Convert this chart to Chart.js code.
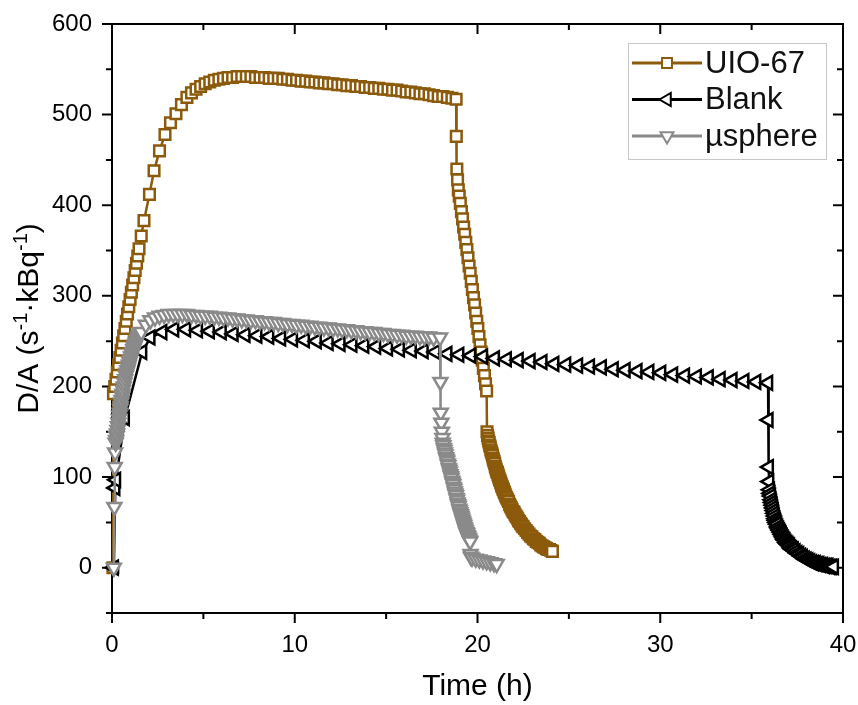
<!DOCTYPE html>
<html>
<head>
<meta charset="utf-8">
<script src="https://cdn.jsdelivr.net/npm/chart.js@4.4.1/dist/chart.umd.min.js"></script>
<style>
  html, body { margin: 0; padding: 0; background: #fff; }
</style>
</head>
<body>
<canvas id="chart" width="858" height="705"></canvas>
<script>
// [time (h), D/A]
const uio67 = [
  [0.05,0],[0.08,192],[0.15,200],[0.22,208],[0.29,216],[0.36,224],[0.43,232],[0.5,240],[0.57,248],[0.64,256],
  [0.71,264],[0.78,272],[0.85,280],[0.92,288],[0.99,296],[1.06,304],[1.13,312],[1.2,320],[1.27,328],[1.34,336],
  [1.41,344],[1.48,352],[1.6,366],[1.75,383],[2.05,412],[2.3,438],[2.6,460],[2.9,478],[3.2,491],[3.5,501],
  [3.8,511],[4.1,519],[4.35,524],[4.6,528],[4.85,531],[5.1,534],[5.35,536],[5.6,538],[5.85,539],[6.1,540],
  [6.35,541],[6.6,541],[6.85,542],[7.1,542],[7.35,542],[7.6,542],[7.85,541],[8.1,541],[8.35,541],[8.6,540],
  [8.85,540],[9.1,540],[9.35,539],[9.6,539],[9.85,538],[10.1,538],[10.35,537],[10.6,537],[10.85,536],[11.1,536],
  [11.35,535],[11.6,535],[11.85,534],[12.1,534],[12.35,533],[12.6,533],[12.85,532],[13.1,532],[13.35,531],[13.6,531],
  [13.85,530],[14.1,530],[14.35,529],[14.6,529],[14.85,528],[15.1,528],[15.35,527],[15.6,527],[15.85,526],[16.1,525],
  [16.35,525],[16.6,524],[16.85,523],[17.1,523],[17.35,522],[17.6,521],[17.85,520],[18.1,520],[18.35,519],[18.6,518],
  [18.83,517],[18.84,476],[18.87,440],[18.91,428],[18.95,417],[19.0,410],[19.06,402],[19.12,393],[19.18,385],[19.24,376],
  [19.3,368],[19.36,359],[19.42,351],[19.48,342],[19.54,333],[19.6,325],[19.66,316],[19.72,307],[19.78,298],[19.84,290],
  [19.9,281],[19.96,272],[20.02,264],[20.08,255],[20.14,246],[20.2,238],[20.26,229],[20.32,220],[20.38,212],[20.44,203],
  [20.5,195],[20.52,150],[20.55,146],[20.58,143],[20.61,140],[20.64,138],[20.67,135],[20.7,133],[20.73,130],[20.76,128],
  [20.79,126],[20.82,124],[20.85,121],[20.88,119],[20.91,117],[20.94,115],[20.97,112],[21.0,110],[21.03,108],[21.06,106],
  [21.09,105],[21.12,103],[21.15,101],[21.18,99],[21.21,97],[21.24,96],[21.27,94],[21.3,92],[21.33,90],[21.36,89],
  [21.39,87],[21.42,86],[21.45,84],[21.48,83],[21.51,81],[21.55,79],[21.6,77],[21.65,75],[21.7,73],[21.75,70],
  [21.8,68],[21.85,66],[21.9,64],[21.95,62],[22.0,61],[22.05,59],[22.1,57],[22.15,56],[22.2,54],[22.25,52],
  [22.3,51],[22.35,49],[22.4,48],[22.45,46],[22.5,45],[22.58,43],[22.66,41],[22.74,39],[22.82,37],[22.9,35],
  [22.98,34],[23.06,32],[23.14,31],[23.22,29],[23.3,28],[23.38,27],[23.46,25],[23.54,24],[23.62,23],[23.7,22],
  [23.78,21],[23.86,20],[23.94,20],[24.02,19],[24.1,18]
];

const blank = [
  [0.1,0],[0.18,88],[0.22,97],[0.7,165],[1.65,238],[2.1,254],[2.75,260],[3.4,263],[4.05,263],[4.7,262],
  [5.35,261],[6.0,260],[6.65,258],[7.3,257],[7.95,256],[8.6,255],[9.25,253],[9.9,252],[10.55,251],[11.2,250],
  [11.85,248],[12.5,247],[13.15,246],[13.8,245],[14.45,244],[15.1,242],[15.75,241],[16.4,240],[17.05,239],[17.7,238],
  [18.35,236],[19.0,235],[19.65,234],[20.3,233],[20.95,231],[21.6,230],[22.25,229],[22.9,228],[23.55,227],[24.2,225],
  [24.85,224],[25.5,223],[26.15,222],[26.8,221],[27.45,219],[28.1,218],[28.75,217],[29.4,216],[30.05,215],[30.7,213],
  [31.35,212],[32.0,211],[32.65,210],[33.3,208],[33.95,207],[34.6,206],[35.25,205],[35.9,204],
  [35.92,163],[35.94,111],[35.96,95],[36.0,86],[36.03,82],[36.06,79],[36.09,75],[36.12,72],[36.15,69],[36.18,66],
  [36.21,63],[36.24,60],[36.27,57],[36.3,54],[36.33,52],[36.36,50],[36.4,48],[36.45,45],[36.5,43],[36.55,41],
  [36.6,39],[36.65,37],[36.7,35],[36.75,33],[36.8,31],[36.85,30],[36.9,28],[36.95,27],[37.0,26],[37.05,25],
  [37.1,24],[37.15,22],[37.2,21],[37.25,20],[37.3,20],[37.4,18],[37.5,16],[37.6,15],[37.7,13],[37.8,12],
  [37.9,10],[38.0,9],[38.1,8],[38.2,7],[38.3,6],[38.4,5],[38.5,5],[38.6,4],[38.7,4],[38.8,3],
  [38.9,3],[39.0,2],[39.1,2],[39.2,2],[39.3,1],[39.4,1],[39.5,1]
];

const usphere = [
  [0.1,0],[0.13,67],[0.15,111],[0.17,127],[0.2,138],[0.225,141],[0.25,145],[0.275,148],[0.3,152],[0.325,156],
  [0.35,160],[0.375,164],[0.4,168],[0.425,171],[0.45,175],[0.475,178],[0.5,182],[0.525,185],[0.55,189],[0.575,192],
  [0.6,196],[0.64,200],[0.68,204],[0.72,208],[0.76,212],[0.8,215],[0.84,218],[0.88,221],[0.92,224],[0.96,227],
  [1.0,230],[1.04,233],[1.08,236],[1.12,238],[1.16,241],[1.2,243],[1.24,245],[1.28,247],[1.32,249],[1.36,251],
  [1.4,253],[1.45,255],[1.5,257],[1.55,259],[1.6,260],[1.85,268],[2.1,273],[2.35,276],[2.6,278],[2.85,279],
  [3.1,280],[3.35,280],[3.6,280],[3.85,280],[4.1,280],[4.35,279],[4.6,279],[4.85,278],[5.1,278],[5.35,278],
  [5.6,277],[5.85,277],[6.1,276],[6.35,276],[6.6,275],[6.85,275],[7.1,274],[7.35,274],[7.6,273],[7.85,273],
  [8.1,272],[8.35,272],[8.6,271],[8.85,271],[9.1,270],[9.35,270],[9.6,269],[9.85,269],[10.1,268],[10.35,268],
  [10.6,267],[10.85,267],[11.1,266],[11.35,266],[11.6,265],[11.85,265],[12.1,264],[12.35,264],[12.6,263],[12.85,263],
  [13.1,262],[13.35,262],[13.6,261],[13.85,261],[14.1,260],[14.35,260],[14.6,259],[14.85,259],[15.1,258],[15.35,258],
  [15.6,257],[15.85,257],[16.1,256],[16.35,256],[16.6,256],[16.85,255],[17.1,255],[17.35,255],[17.6,254],[17.95,254],
  [17.97,205],[17.99,171],[18.02,160],[18.05,150],[18.08,143],[18.1,138],[18.13,135],[18.16,132],[18.19,130],[18.22,127],
  [18.25,125],[18.28,122],[18.31,120],[18.34,118],[18.37,115],[18.4,113],[18.43,110],[18.46,108],[18.49,106],[18.52,103],
  [18.55,101],[18.58,99],[18.61,96],[18.64,94],[18.67,92],[18.7,89],[18.73,87],[18.76,84],[18.79,82],[18.82,80],
  [18.85,77],[18.88,75],[18.91,72],[18.94,70],[18.97,68],[19.0,65],[19.03,63],[19.06,61],[19.09,59],[19.12,57],
  [19.15,55],[19.18,53],[19.21,51],[19.24,49],[19.27,47],[19.3,45],[19.33,43],[19.36,41],[19.39,39],[19.42,38],
  [19.45,36],[19.48,35],[19.51,33],[19.54,32],[19.57,30],[19.6,29],[19.62,15],[19.64,12],[19.7,11],[19.9,10],
  [20.1,9],[20.3,8],[20.5,7],[20.7,6],[20.9,5],[21.05,4]
];

const seriesNames = ['UIO-67', 'Blank', 'µsphere'];
const xMajor = [0, 10, 20, 30, 40];
const xMinor = [5, 15, 25, 35];
const yMajor = [0, 100, 200, 300, 400, 500, 600];
const yMinor = [-50, 50, 150, 250, 350, 450, 550];

const FONT = '"Liberation Sans", Arial, sans-serif';
const BROWN = '#8b5a0a';
const GRAY = '#8a8a8a';

function series(label, pairs, color, style, rotation, radius, order) {
  return {
    label,
    data: pairs.map(p => ({ x: p[0], y: p[1] })),
    borderColor: color,
    borderWidth: 2.5,
    backgroundColor: '#fff',
    pointStyle: style,
    pointRotation: rotation,
    pointRadius: radius,
    pointBorderWidth: 2.5,
    pointBorderColor: color,
    pointBackgroundColor: '#fff',
    fill: false,
    tension: 0,
    clip: false,
    order
  };
}

// box frame with ticks: outward on left/bottom, inward on top/right
const frame = {
  id: 'frame',
  beforeDatasetsDraw(chart) {
    const { ctx, chartArea: a, scales: { x, y } } = chart;
    ctx.save();
    ctx.strokeStyle = '#000';
    ctx.lineWidth = 2;
    ctx.strokeRect(a.left, a.top, a.right - a.left, a.bottom - a.top);
    ctx.beginPath();
    const xt = (v, len) => {
      const px = x.getPixelForValue(v);
      ctx.moveTo(px, a.bottom); ctx.lineTo(px, a.bottom + len);
      ctx.moveTo(px, a.top); ctx.lineTo(px, a.top + len);
    };
    const yt = (v, len) => {
      const py = y.getPixelForValue(v);
      ctx.moveTo(a.left, py); ctx.lineTo(a.left - len, py);
      ctx.moveTo(a.right, py); ctx.lineTo(a.right - len, py);
    };
    xMajor.forEach(v => xt(v, 10));
    xMinor.forEach(v => xt(v, 6));
    yMajor.forEach(v => yt(v, 10));
    yMinor.forEach(v => yt(v, 6));
    ctx.stroke();
    ctx.restore();
  }
};

const yTitle = {
  id: 'yTitle',
  afterDraw(chart) {
    const { ctx, chartArea: a } = chart;
    const big = '30px ' + FONT, small = '20px ' + FONT;
    const parts = [['D/A (s', false], ['-1', true], ['·kBq', false], ['-1', true], [')', false]];
    ctx.save();
    ctx.translate(30, (a.top + a.bottom) / 2);
    ctx.rotate(-Math.PI / 2);
    ctx.fillStyle = '#000';
    ctx.textBaseline = 'middle';
    ctx.textAlign = 'left';
    let total = 0;
    parts.forEach(([t, sup]) => { ctx.font = sup ? small : big; total += ctx.measureText(t).width; });
    let xx = -total / 2;
    parts.forEach(([t, sup]) => {
      ctx.font = sup ? small : big;
      ctx.fillText(t, xx, sup ? -9 : 0);
      xx += ctx.measureText(t).width;
    });
    ctx.restore();
  }
};

const legendBox = {
  id: 'legendBox',
  afterDraw(chart) {
    const ctx = chart.ctx;
    ctx.save();
    ctx.fillStyle = '#fff';
    ctx.fillRect(628, 43, 198, 116);
    ctx.strokeStyle = '#c8c8c8';
    ctx.lineWidth = 1;
    ctx.strokeRect(628.5, 43.5, 198, 116);
    chart.data.datasets.forEach((ds, i) => {
      const yy = 63 + i * 36.5;
      ctx.strokeStyle = ds.borderColor;
      ctx.lineWidth = 3;
      ctx.beginPath(); ctx.moveTo(632, yy); ctx.lineTo(702, yy); ctx.stroke();
      ctx.fillStyle = '#fff';
      ctx.lineWidth = 2;
      Chart.helpers.drawPoint(ctx, {
        pointStyle: ds.pointStyle, rotation: ds.pointRotation,
        radius: ds.pointRadius - 0.5, borderWidth: 2
      }, 667, yy);
      ctx.fillStyle = '#111';
      ctx.font = '31px ' + FONT;
      ctx.textBaseline = 'middle';
      ctx.textAlign = 'left';
      ctx.fillText(ds.label, 705, yy + 1);
    });
    ctx.restore();
  }
};

new Chart(document.getElementById('chart'), {
  type: 'line',
  data: {
    datasets: [
      series(seriesNames[0], uio67, BROWN, 'rect', 0, 7.5, 3),
      series(seriesNames[1], blank, '#000', 'triangle', 270, 8, 2),
      series(seriesNames[2], usphere, GRAY, 'triangle', 180, 8, 1)
    ]
  },
  options: {
    responsive: false,
    animation: false,
    devicePixelRatio: 1,
    layout: { autoPadding: false, padding: { top: 24, right: 15, bottom: 0, left: 0 } },
    plugins: { legend: { display: false }, tooltip: { enabled: false } },
    scales: {
      x: {
        type: 'linear',
        min: 0,
        max: 40,
        afterBuildTicks: s => { s.ticks = xMajor.map(v => ({ value: v })); },
        afterFit: s => { s.height = 92; s.paddingLeft = 0; s.paddingRight = 0; },
        grid: { display: false, drawTicks: false },
        border: { display: false },
        ticks: { font: { family: FONT, size: 24 }, color: '#000', padding: 18, maxRotation: 0 },
        title: { display: true, text: 'Time (h)', font: { family: FONT, size: 30 }, color: '#000', padding: { top: 0, bottom: 0 } }
      },
      y: {
        type: 'linear',
        min: -50,
        max: 600,
        afterBuildTicks: s => { s.ticks = yMajor.map(v => ({ value: v })); },
        afterFit: s => { s.width = 112; s.paddingTop = 0; s.paddingBottom = 0; },
        grid: { display: false, drawTicks: false },
        border: { display: false },
        ticks: { font: { family: FONT, size: 24 }, color: '#000', padding: 20 }
      }
    }
  },
  plugins: [frame, yTitle, legendBox]
});
</script>
</body>
</html>
